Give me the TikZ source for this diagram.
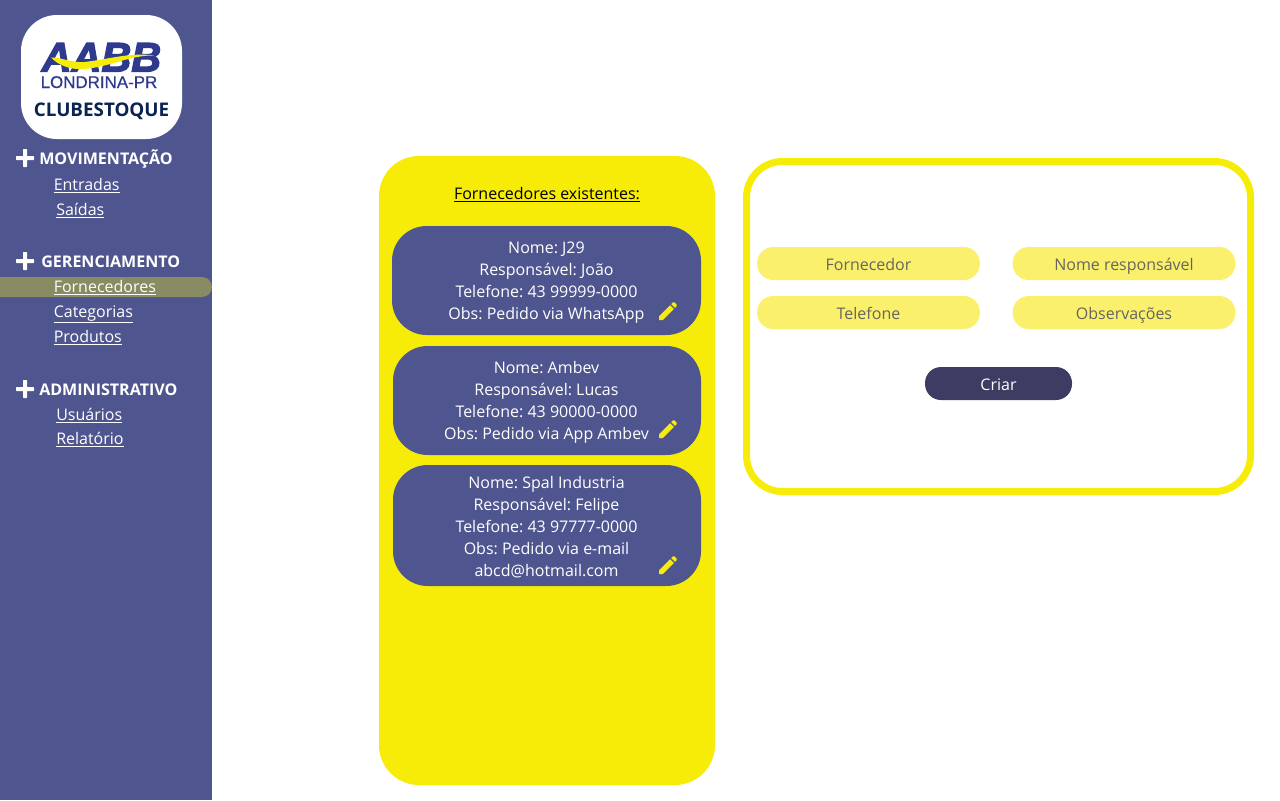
\documentclass[tikz,border=0pt]{standalone}
\usepackage{fontspec}
\setmainfont{Open Sans}
\newfontfamily\logofont[FakeBold=0.6]{Liberation Sans}
\newfontfamily\logoheavy[BoldItalicFeatures={FakeBold=3}]{Liberation Sans}
\definecolor{sidebarblue}{HTML}{4F568F}
\definecolor{clubyellow}{HTML}{F7EC08}
\definecolor{fieldyellow}{HTML}{FAF06B}
\definecolor{rowolive}{HTML}{898B63}
\definecolor{buttonblue}{HTML}{3D3C63}
\definecolor{fieldtext}{HTML}{66665F}
\definecolor{logonavy}{HTML}{0B2350}
\definecolor{logoblue}{HTML}{2E3A8E}
\frenchspacing
\tikzset{
  menuhead/.style={anchor=base west,text=white,inner sep=0pt,font=\bfseries\fontsize{12.05}{14}\selectfont},
  menulink/.style={anchor=base west,text=white,inner sep=0pt,font=\fontsize{12}{14}\selectfont},
  cardtext/.style={text=white,align=center,inner sep=0pt,font=\fontsize{12}{16.5}\selectfont},
  field/.style={fill=fieldyellow,rounded corners=12pt,minimum width=167pt,minimum height=24.75pt,inner sep=0pt,
    text height=12pt,text depth=1.6pt,text=fieldtext,font=\fontsize{12}{14}\selectfont},
  plusmark/.pic={\fill[white,rounded corners=0.5pt] (-9,-2) rectangle (9,2) (-2,-9) rectangle (2,9);},
  pencil/.pic={\fill[clubyellow,shift={(-12,-12)}] (3,17.25) -- (3,21) -- (6.75,21) -- (17.81,9.94) -- (14.06,6.19) -- cycle
    (20.71,7.04) .. controls (21.1,6.65) and (21.1,6.02) .. (20.71,5.63) -- (18.37,3.29)
    .. controls (17.98,2.9) and (17.35,2.9) .. (16.96,3.29) -- (15.13,5.12) -- (18.88,8.87) -- cycle;}
}
\begin{document}
\begin{tikzpicture}[x=0.75pt,y=-0.75pt]
\useasboundingbox (0,0) rectangle (1280,800);
% sidebar
\fill[sidebarblue] (0,0) rectangle (212,800);
\fill[rowolive,rounded corners=7.5pt] (-20,277) rectangle (212,297);
\node[fill=white,rounded corners=27pt,minimum width=120.75pt,minimum height=93pt,inner sep=0pt] (logobox) at (101.5,77) {};
\node[anchor=base,text=logoblue,font=\logoheavy\bfseries\itshape\fontsize{31}{31}\selectfont,inner sep=0pt] (logoaabb) at (101.5,71.5) {AABB};
\fill[clubyellow] (51,57.5) .. controls (60,57) and (72,63) .. (84,62) .. controls (105,60) and (130,52) .. (154,55.5)
  .. controls (130,55) and (110,67) .. (84,69) .. controls (70,70) and (58,65) .. (51,57.5) -- cycle;
\node[anchor=base,text=logoblue,font=\logofont\fontsize{12.7}{14}\selectfont,inner sep=0pt] (logotown) at (99,88) {LONDRINA-PR};
\node[anchor=base,text=logonavy,font=\bfseries\fontsize{14.1}{16}\selectfont,inner sep=0pt] (logoname) at (101.5,116) {CLUBESTOQUE};
% menu
\pic at (25,158) {plusmark};
\node[menuhead] (headmov) at (39,164) {MOVIMENTAÇÃO};
\node[menulink] (linkin) at (53.5,190) {\underline{Entradas}};
\node[menulink] (linkout) at (56,215) {\underline{Saídas}};
\pic at (25,261) {plusmark};
\node[menuhead] (headger) at (41,267) {GERENCIAMENTO};
\node[menulink] (linksup) at (53.5,292) {\underline{Fornecedores}};
\node[menulink] (linkcat) at (53.5,317) {\underline{Categorias}};
\node[menulink] (linkprod) at (53.5,342) {\underline{Produtos}};
\pic at (25,389) {plusmark};
\node[menuhead] (headadm) at (39,395) {ADMINISTRATIVO};
\node[menulink] (linkuser) at (56,420) {\underline{Usuários}};
\node[menulink] (linkrep) at (56,444) {\underline{Relatório}};
% list of suppliers
\fill[clubyellow,rounded corners=30pt] (379,156) rectangle (715,785);
\node[anchor=base,inner sep=0pt,font=\fontsize{12}{14}\selectfont] (listtitle) at (547,199) {\underline{Fornecedores existentes:}};
\fill[sidebarblue,rounded corners=26pt] (392,226) rectangle (701,335) (393,346) rectangle (701,455) (393,465) rectangle (701,586);
\node[cardtext] (cardone) at (546.5,282.5) {Nome: J29\\Responsável: João\\Telefone: 43 99999-0000\\Obs: Pedido via WhatsApp};
\node[cardtext] (cardtwo) at (546.5,402.5) {Nome: Ambev\\Responsável: Lucas\\Telefone: 43 90000-0000\\Obs: Pedido via App Ambev};
\node[cardtext] (cardthree) at (546.5,527.5) {Nome: Spal Industria\\Responsável: Felipe\\Telefone: 43 97777-0000\\Obs: Pedido via e-mail\\abcd@hotmail.com};
\pic at (668,311) {pencil};
\pic at (668,429) {pencil};
\pic at (668,565) {pencil};
% form
\draw[clubyellow,line width=5.25pt,rounded corners=27pt] (746.5,161.5) rectangle (1250.5,491.5);
\node[field] (fieldname) at (868.5,263.5) {Fornecedor};
\node[field] (fieldresp) at (1124,263.5) {Nome responsável};
\node[field] (fieldphone) at (868.5,312.5) {Telefone};
\node[field] (fieldobs) at (1124,312.5) {Observações};
\node[field,fill=buttonblue,minimum width=110.25pt,text=white] (createbtn) at (998.5,383.5) {Criar};
\end{tikzpicture}
\end{document}
